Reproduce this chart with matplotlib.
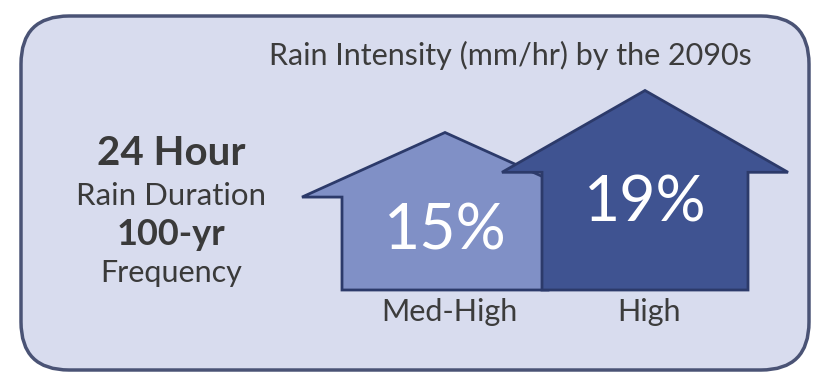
import matplotlib.pyplot as plt
from matplotlib.patches import FancyBboxPatch, Polygon

plt.rcParams['font.family'] = ['Lato', 'DejaVu Sans']

# data
scenarios = ['Med-High', 'High']
increase_pct = [15, 19]
title = 'Rain Intensity (mm/hr) by the 2090s'
side_lines = ['24 Hour', 'Rain Duration', '100-yr', 'Frequency']
side_bold = [True, False, True, False]

# layout (pixels)
W, H = 814, 373
centers = [445, 645]
pct_y = [231, 203]
base_y = 290
px_per_pct = 10.5
shaft_half = 103
wing_half = 143
shoulder_frac = 0.59
fills = ['#8090c6', '#3f5391']
edge = '#2c3a6a'

fig = plt.figure(figsize=(W / 100, H / 100), dpi=100)
ax = fig.add_axes([0, 0, 1, 1])
ax.set_xlim(0, W)
ax.set_ylim(H, 0)
ax.axis('off')

box = FancyBboxPatch((21, 16), 788, 354, boxstyle='round,pad=0,rounding_size=48',
                     facecolor='#d8dcee', edgecolor='#4a5375', linewidth=2.5)
ax.add_patch(box)

ax.text(510, 65, title, ha='center', va='baseline', fontsize=22, color='#3c3c3c')

for i, (name, val) in enumerate(zip(scenarios, increase_pct)):
    cx = centers[i]
    h = val * px_per_pct
    sh = base_y - h * shoulder_frac
    top = base_y - h
    pts = [(cx - shaft_half, base_y), (cx - shaft_half, sh), (cx - wing_half, sh),
           (cx, top), (cx + wing_half, sh), (cx + shaft_half, sh),
           (cx + shaft_half, base_y)]
    ax.add_patch(Polygon(pts, closed=True, facecolor=fills[i], edgecolor=edge,
                         linewidth=2, joinstyle='miter', zorder=2 + i))
    ax.text(cx, pct_y[i], f'{val}%', ha='center', va='center', fontsize=45,
            color='white', zorder=5)
    ax.text(cx + 4, 321, name, ha='center', va='baseline', fontsize=22, color='#3c3c3c')

ys = [165, 205, 245, 282]
sizes = [29, 22.5, 26, 22]
for txt, bold, y, s in zip(side_lines, side_bold, ys, sizes):
    ax.text(171, y, txt, ha='center', va='baseline',
            fontsize=s, fontweight='bold' if bold else 'normal',
            color='#3a3a3a')

fig.savefig('out.png', dpi=100, facecolor='white')
